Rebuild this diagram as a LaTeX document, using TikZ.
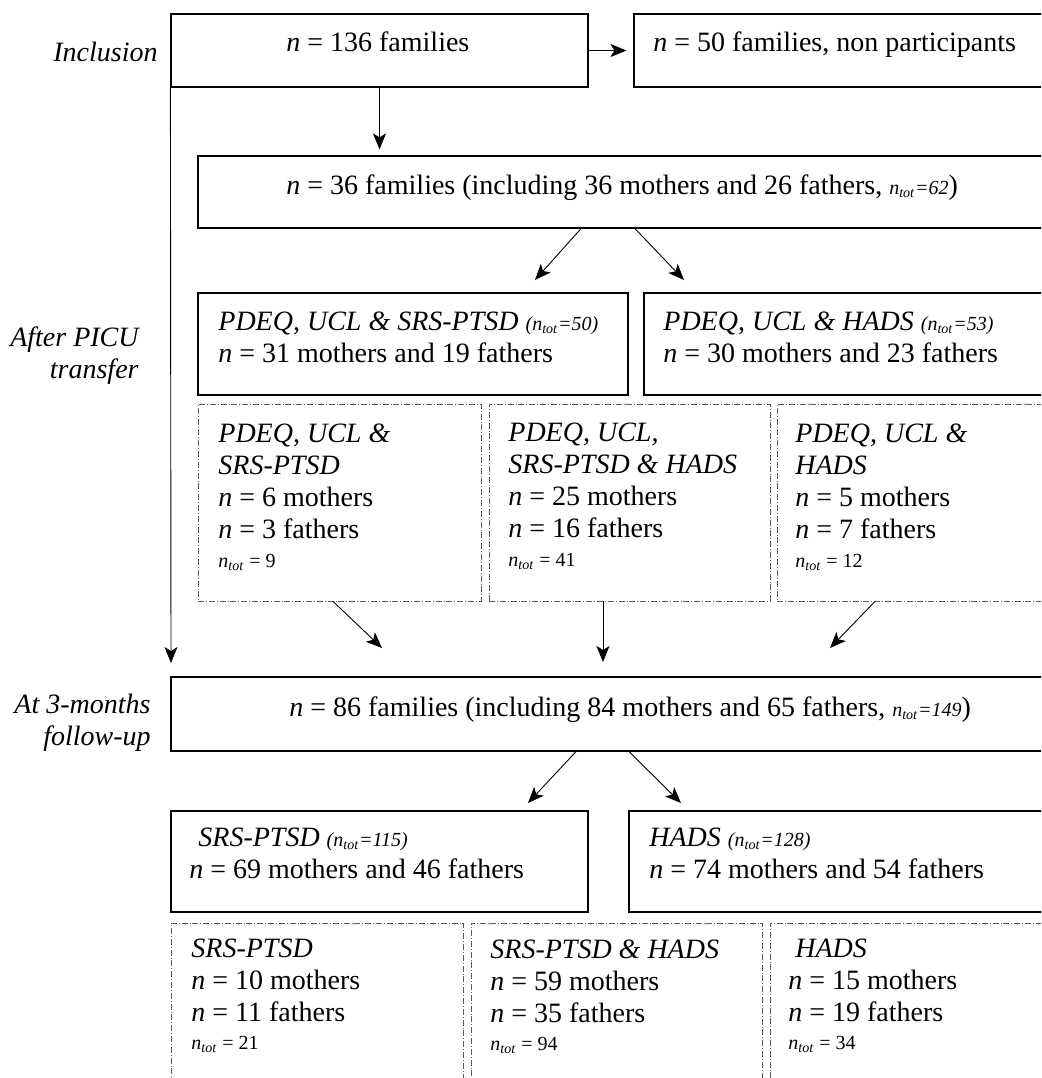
\documentclass[tikz,border=0pt]{standalone}
\usepackage{fontspec}
\setmainfont{Liberation Serif}
\usetikzlibrary{arrows.meta,fit}

\newcommand{\ntot}{\textit{n}\textsubscript{\textit{tot}}}
\newcommand{\smallsz}{\fontsize{10}{12}\selectfont}

\tikzset{
  box/.style={draw, line width=0.6pt, inner sep=0pt},
  dotbox/.style={draw=gray!70!black, densely dash dot, line width=0.4pt, inner sep=0pt},
  txt/.style={anchor=north west, align=left, inner sep=0pt, font=\fontsize{14}{16}\selectfont},
  lbl/.style={anchor=north east, align=right, inner sep=0pt, font=\fontsize{14}{16}\selectfont\itshape},
  arr/.style={-{Stealth[length=8pt,width=6.5pt,inset=2pt]}, line width=0.45pt}
}

\begin{document}
\begin{tikzpicture}[x=0.5pt, y=-0.5pt]
\clip (0,0) rectangle (1041,1078);

% boxes
\node (boxInc) [box, fit={(171,14) (588,87)}] {};
\node (boxNonp) [box, fit={(634,14) (1060,87)}] {};
\node (boxFam36) [box, fit={(198,156) (1060,228)}] {};
\node (boxPicuA) [box, fit={(198,293) (628,395)}] {};
\node (boxPicuB) [box, fit={(644,293) (1060,395)}] {};
\node (dotPicuA) [dotbox, fit={(198,404) (481,601)}] {};
\node (dotPicuB) [dotbox, fit={(489,404) (770,601)}] {};
\node (dotPicuC) [dotbox, fit={(777,404) (1060,601)}] {};
\node (boxFam86) [box, fit={(171,677) (1060,751)}] {};
\node (boxFuA) [box, fit={(171,811) (588,912)}] {};
\node (boxFuB) [box, fit={(629,811) (1060,912)}] {};
\node (dotFuA) [dotbox, fit={(171,923) (463,1090)}] {};
\node (dotFuB) [dotbox, fit={(471,923) (762,1090)}] {};
\node (dotFuC) [dotbox, fit={(770,923) (1060,1090)}] {};

% row labels
\node (lblInc) [lbl] at (158,42) {Inclusion};
\node (lblPicu) [lbl] at (139,326) {After PICU\\transfer};
\node (lblFu) [lbl] at (151,694) {At 3-months\\follow-up};

% texts
\node (txtInc) [txt] at (286,31) {\textit{n} = 136 families};
\node (txtNonp) [txt] at (653,31) {\textit{n} = 50 families, non participants};
\node (txtFam36) [txt] at (286,174) {\textit{n} = 36 families (including 36 mothers and 26 fathers, {\smallsz\textit{\ntot=62}})};
\node (txtPicuA) [txt] at (218,311) {\textit{PDEQ, UCL \& SRS-PTSD} {\smallsz\textit{(\ntot=50)}}\\\textit{n} = 31 mothers and 19 fathers};
\node (txtPicuB) [txt] at (663,311) {\textit{PDEQ, UCL \& HADS} {\smallsz\textit{(\ntot=53)}}\\\textit{n} = 30 mothers and 23 fathers};
\node (txtDotA) [txt] at (218,423) {\textit{PDEQ, UCL \&}\\\textit{SRS-PTSD}\\\textit{n} = 6 mothers\\\textit{n} = 3 fathers\\[-1.5pt]{\smallsz\ntot{} = 9}};
\node (txtDotB) [txt] at (508,423) {\textit{PDEQ, UCL,}\\\textit{SRS-PTSD \& HADS}\\\textit{n} = 25 mothers\\\textit{n} = 16 fathers\\[-1.5pt]{\smallsz\ntot{} = 41}};
\node (txtDotC) [txt] at (795,423) {\textit{PDEQ, UCL \&}\\\textit{HADS}\\\textit{n} = 5 mothers\\\textit{n} = 7 fathers\\[-1.5pt]{\smallsz\ntot{} = 12}};
\node (txtFam86) [txt] at (289,696) {\textit{n} = 86 families (including 84 mothers and 65 fathers, {\smallsz\textit{\ntot=149}})};
\node (txtFuA) [txt] at (189,828) {\hspace*{4.5pt}\textit{SRS-PTSD} {\smallsz\textit{(\ntot=115)}}\\\textit{n} = 69 mothers and 46 fathers};
\node (txtFuB) [txt] at (649,828) {\textit{HADS} {\smallsz\textit{(\ntot=128)}}\\\textit{n} = 74 mothers and 54 fathers};
\node (txtDotFuA) [txt] at (191,939) {\textit{SRS-PTSD}\\\textit{n} = 10 mothers\\\textit{n} = 11 fathers\\[-2pt]{\smallsz\ntot{} = 21}};
\node (txtDotFuB) [txt] at (490,939) {\textit{SRS-PTSD \& HADS}\\\textit{n} = 59 mothers\\\textit{n} = 35 fathers\\[-2pt]{\smallsz\ntot{} = 94}};
\node (txtDotFuC) [txt] at (788,939) {\hspace*{3.5pt}\textit{HADS}\\\textit{n} = 15 mothers\\\textit{n} = 19 fathers\\[-2pt]{\smallsz\ntot{} = 34}};

% arrow ends
\coordinate (endPicuA) at (535,280);
\coordinate (endPicuB) at (684,280);
\coordinate (endDotA) at (382,648);
\coordinate (endDotB) at (603,662);
\coordinate (endDotC) at (830,648);
\coordinate (endLeft) at (171,663);
\coordinate (endFuA) at (528,803);
\coordinate (endFuB) at (681,803);

\draw[arr, shorten >=3.5pt] (boxInc.east) -- (boxNonp.west);
\draw[arr, shorten >=3pt] (boxInc) -- (boxInc |- boxFam36.north);
\draw[arr] (boxInc.south west) -- (endLeft);
\draw[arr] ([xshift=-24pt]boxFam36.south) -- (endPicuA);
\draw[arr] ([xshift=3pt]boxFam36.south) -- (endPicuB);
\draw[arr] ([xshift=-3.25pt]dotPicuA.south) -- (endDotA);
\draw[arr] ([xshift=-13.25pt]dotPicuB.south) -- (endDotB);
\draw[arr] ([xshift=-21.75pt]dotPicuC.south) -- (endDotC);
\draw[arr] ([xshift=-19.75pt]boxFam86.south) -- (endFuA);
\draw[arr] ([xshift=6.75pt]boxFam86.south) -- (endFuB);

\end{tikzpicture}
\end{document}
